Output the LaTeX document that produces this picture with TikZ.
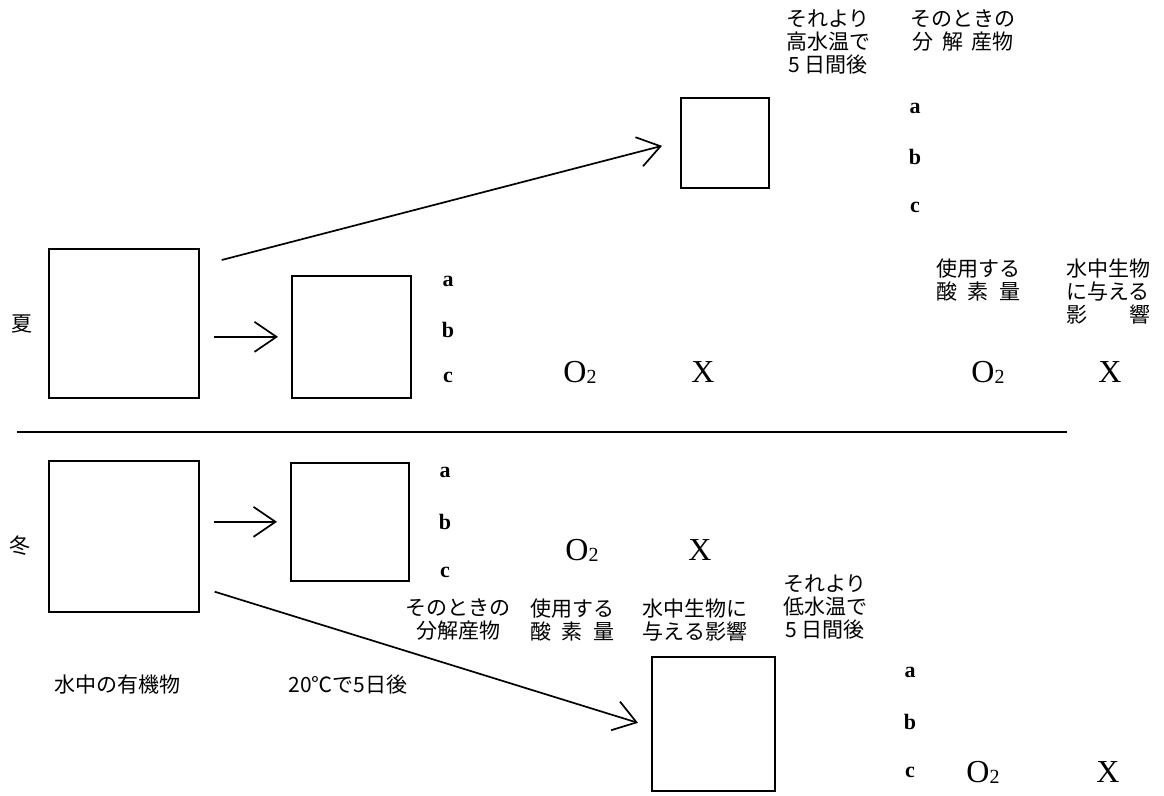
\documentclass[tikz,border=0pt]{standalone}
\usepackage{fontspec}
\setmainfont{Liberation Serif}
\newfontfamily\jp{Noto Sans CJK JP}
\usetikzlibrary{arrows.meta,calc}
\begin{document}
\begin{tikzpicture}[x=1pt,y=-1pt,
  box/.style={draw,line width=1.7pt,inner sep=0pt,anchor=north west},
  jt/.style={font=\jp\fontsize{21}{23}\selectfont,inner sep=0pt,align=center},
  lt/.style={font=\bfseries\fontsize{22}{22}\selectfont,inner sep=0pt},
  big/.style={font=\fontsize{32}{32}\selectfont,inner sep=0pt},
  arr/.style={line width=1.7pt,-{Straight Barb[length=22pt,width=30pt]}}]
\useasboundingbox (0,0) rectangle (1164,795);
% season labels
\node[jt] (summer) at (22,324) {夏};
\node[jt] (winter) at (20,546) {冬};
% boxes
\node[box,minimum width=150pt,minimum height=149pt] (sbig) at (48,248) {};
\node[box,minimum width=119pt,minimum height=122pt] (ssmall) at (291,275) {};
\node[box,minimum width=88pt,minimum height=90pt] (ubox) at (680,97) {};
\node[box,minimum width=150pt,minimum height=151pt] (wbig) at (48,460) {};
\node[box,minimum width=118pt,minimum height=118pt] (wsmall) at (290,462) {};
\node[box,minimum width=123pt,minimum height=134pt] (lbox) at (651,656) {};
% separator
\coordinate (sepL) at (17,432);
\coordinate (sepR) at (1067,432);
\draw[line width=1.7pt] (sepL) -- (sepR);
% arrows
\draw[arr,shorten <=14pt,shorten >=13pt] (sbig.east |- ssmall.west) -- (ssmall.west);
\draw[arr,shorten <=14pt,shorten >=13pt] (wbig.east |- wsmall.west) -- (wsmall.west);
\draw[arr] ($(sbig.north east)+(22,12)$) -- ($(ubox.west)+(-18,3)$);
\draw[arr] ($(wbig.south east)+(15,-21)$) -- ($(lbox.west)+(-13,-1)$);
% summer labels
\node[lt] (sa) at (448,281) {a};
\node[lt] (sb) at (448,330) {b};
\node[lt] (sc) at (448,377) {c};
\node[big] (sO) at (580,372) {O\raisebox{-1pt}{\fontsize{20}{20}\selectfont 2}};
\node[big] (sX) at (703,372) {X};
% upper
\node[jt] (uh1) at (828,42) {それより\\高水温で\\5 日間後};
\node[jt] (uh2) at (963,31) {そのときの\\分\hspace{0.4em}解\hspace{0.4em}産物};
\node[lt] (ua) at (915,108) {a};
\node[lt] (ub) at (915,157) {b};
\node[lt] (uc) at (915,207) {c};
\node[jt] (rh1) at (978,280) {使用する\\酸\hspace{0.5em}素\hspace{0.5em}量};
\node[jt] (rh2) at (1108,292) {水中生物\\に与える\\影\hspace{2em}響};
\node[big] (rO) at (988,372) {O\raisebox{-1pt}{\fontsize{20}{20}\selectfont 2}};
\node[big] (rX) at (1110,372) {X};
% winter labels
\node[lt] (wa) at (445,472) {a};
\node[lt] (wb) at (445,522) {b};
\node[lt] (wc) at (445,572) {c};
\node[big] (wO) at (582,550) {O\raisebox{-1pt}{\fontsize{20}{20}\selectfont 2}};
\node[big] (wX) at (700,550) {X};
\node[jt] (wh1) at (458,620) {そのときの\\分解産物};
\node[jt] (wh2) at (572,620) {使用する\\酸\hspace{0.5em}素\hspace{0.5em}量};
\node[jt] (wh3) at (695,620) {水中生物に\\与える影響};
\node[jt] (wh4) at (825,607) {それより\\低水温で\\5 日間後};
% bottom
\node[jt] (org) at (117,685) {水中の有機物};
\node[jt] (day) at (348,685) {20℃で5日後};
\node[lt] (la) at (910,672) {a};
\node[lt] (lb) at (910,722) {b};
\node[lt] (lc) at (910,772) {c};
\node[big] (lO) at (983,772) {O\raisebox{-1pt}{\fontsize{20}{20}\selectfont 2}};
\node[big] (lX) at (1108,772) {X};
\end{tikzpicture}
\end{document}
